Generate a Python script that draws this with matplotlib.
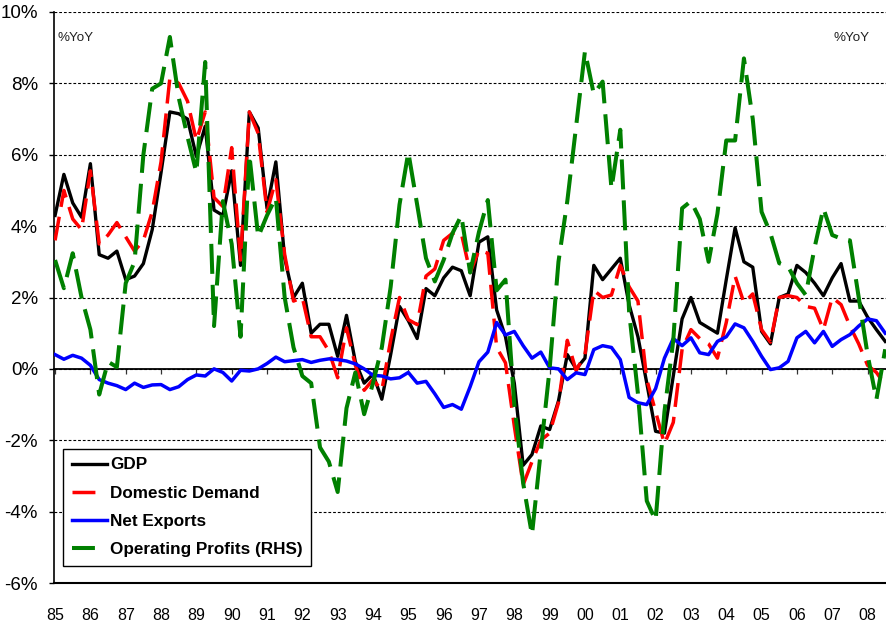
import matplotlib
matplotlib.use('Agg')
import matplotlib.pyplot as plt
from matplotlib.lines import Line2D
import numpy as np

plt.rcParams['font.family'] = ['Liberation Sans', 'DejaVu Sans']
plt.rcParams['lines.scale_dashes'] = False

# ---------------- data (quarterly, %YoY, from 1985Q1) ----------------
start_year = 1985
gdp = [4.3, 5.45, 4.65, 4.25, 5.75, 3.2, 3.1, 3.3, 2.5, 2.6,
       2.95, 3.9, 5.5, 7.2, 7.15, 7.0, 5.95, 6.8, 4.45, 4.3,
       5.55, 2.9, 7.2, 6.75, 4.5, 5.8, 3.1, 2.0, 2.4, 1.0,
       1.25, 1.25, 0.35, 1.5, 0.2, -0.4, -0.15, -0.85, 0.4, 1.75,
       1.35, 0.85, 2.25, 2.05, 2.55, 2.85, 2.75, 2.05, 3.55, 3.7,
       1.65, 0.9, -0.4, -2.7, -2.4, -1.6, -1.7, -0.9, 0.4, 0.0,
       0.3, 2.9, 2.5, 2.8, 3.1, 1.8, 0.9, -0.4, -1.75, -1.8,
       -0.2, 1.4, 2.0, 1.3, 1.15, 1.0, 2.5, 3.95, 3.0, 2.85,
       1.05, 0.7, 2.0, 2.1, 2.9, 2.7, 2.4, 2.05, 2.55, 2.95,
       1.9, 1.9, 1.45, 1.1, 0.77]
domestic_demand = [3.6, 5.0, 4.2, 3.9, 5.55, 3.5, 3.75, 4.1, 3.7, 3.3,
                   3.6, 4.4, 5.8, 8.15, 8.0, 7.5, 6.4, 7.2, 4.8, 4.55,
                   6.2, 3.05, 7.2, 6.6, 4.4, 5.3, 3.2, 1.9, 2.0, 0.9,
                   0.9, 0.5, -0.25, 1.15, 0.1, -0.6, -0.3, -0.6, 0.8, 2.0,
                   1.38, 1.24, 2.6, 2.8, 3.6, 3.8, 3.8, 2.7, 3.33, 3.24,
                   0.6, 0.17, -1.6, -3.25, -2.6, -2.0, -1.8, -0.95, 0.8, -0.05,
                   0.4, 2.2, 2.0, 2.07, 2.9, 2.3, 1.9, -0.3, -1.2, -2.1,
                   -1.5, 0.55, 1.1, 0.85, 0.7, 0.3, 1.3, 2.6, 1.85, 2.1,
                   1.1, 0.75, 2.0, 2.05, 2.0, 1.75, 1.7, 1.1, 2.0, 1.8,
                   1.2, 0.7, 0.1, -0.1, -0.45]
net_exports = [0.4, 0.27, 0.38, 0.3, 0.1, -0.3, -0.4, -0.47, -0.58, -0.4,
               -0.52, -0.45, -0.44, -0.58, -0.5, -0.3, -0.17, -0.2, 0.0, -0.1,
               -0.34, -0.04, -0.06, 0.0, 0.15, 0.33, 0.2, 0.23, 0.26, 0.18,
               0.24, 0.28, 0.26, 0.22, 0.14, 0.0, -0.18, -0.2, -0.28, -0.25,
               -0.1, -0.4, -0.35, -0.7, -1.08, -1.0, -1.13, -0.5, 0.2, 0.47,
               1.3, 0.95, 1.05, 0.65, 0.3, 0.47, 0.03, 0.0, -0.3, -0.11,
               -0.16, 0.54, 0.65, 0.6, 0.26, -0.8, -0.95, -1.0, -0.55, 0.3,
               0.85, 0.65, 0.87, 0.45, 0.4, 0.77, 0.9, 1.26, 1.15, 0.77,
               0.35, -0.02, 0.03, 0.21, 0.87, 1.05, 0.73, 1.05, 0.63, 0.82,
               0.96, 1.2, 1.4, 1.35, 1.0]
operating_profits = [3.05, 2.26, 3.24, 2.0, 1.1, -0.72, 0.2, 0.05, 2.4, 3.0,
                     6.0, 7.85, 8.0, 9.3, 7.6, 6.5, 5.5, 8.6, 1.2, 4.7,
                     3.5, 0.9, 6.0, 3.7, 4.3, 4.8, 2.0, 0.6, -0.2, -0.4,
                     -2.2, -2.6, -3.45, -1.1, -0.1, -1.27, -0.4, 0.6, 2.3, 4.6,
                     6.07, 4.6, 3.1, 2.45, 3.05, 3.8, 4.3, 2.7, 3.84, 4.73,
                     2.2, 2.5, -1.0, -3.2, -4.65, -2.3, 0.0, 3.0, 4.7, 6.8,
                     8.9, 7.7, 8.05, 5.05, 6.7, 1.6, -0.7, -3.7, -4.25, -1.2,
                     0.8, 4.5, 4.7, 4.2, 3.0, 4.35, 6.4, 6.4, 8.7, 7.0,
                     4.4, 3.8, 2.96, 2.87, 2.4, 2.07, 3.4, 4.5, 3.75, 3.65,
                     3.6, 2.0, 0.4, -0.86, 0.55]

series_names = ['GDP', 'Domestic Demand', 'Net Exports', 'Operating Profits (RHS)']
year_ticks = list(range(1985, 2009))
year_labels = ['85', '86', '87', '88', '89', '90', '91', '92', '93', '94', '95', '96',
               '97', '98', '99', '00', '01', '02', '03', '04', '05', '06', '07', '08']
y_ticks = [-6, -4, -2, 0, 2, 4, 6, 8, 10]
y_labels = ['-6%', '-4%', '-2%', '0%', '2%', '4%', '6%', '8%', '10%']
unit_label = '%YoY'

# ---------------- figure ----------------
W, H = 887, 622
fig = plt.figure(figsize=(W / 100, H / 100), dpi=100)
ax_l, ax_r, ax_t, ax_b = 54, 887, 12, 583
ax = fig.add_axes([ax_l / W, 1 - ax_b / H, (ax_r - ax_l) / W, (ax_b - ax_t) / H])

x = start_year + np.arange(len(gdp)) / 4.0

ax.plot(x, gdp, color='black', lw=2.4, solid_joinstyle='round', zorder=3)
ax.plot(x, domestic_demand, color='#FF0000', lw=2.5, dashes=(17.3, 7.2),
        dash_capstyle='butt', dash_joinstyle='round', zorder=4)
ax.plot(x, net_exports, color='#0000FF', lw=2.5, solid_joinstyle='round', zorder=5)
ax.plot(x, operating_profits, color='#008000', lw=2.9, dashes=(21.6, 7.9),
        dash_capstyle='butt', dash_joinstyle='round', zorder=6)

ymin, ymax = -6, 10
ax.set_ylim(ymin, ymax)
ax.set_xlim(1984.97, 2008.55)

# y axis
ax.set_yticks(y_ticks)
ax.set_yticklabels(y_labels)
ax.tick_params(axis='y', length=3.6, width=1.0, direction='out', pad=8, labelsize=13.5,
               colors='black')
ax.yaxis.grid(True, linestyle=(0, (2.0, 1.4)), color='black', lw=0.8)
ax.set_axisbelow(True)

# x axis labels at bottom
ax.set_xticks(year_ticks)
ax.set_xticklabels(year_labels)
ax.tick_params(axis='x', length=0, pad=18, labelsize=11.5)

for s in ['top', 'right']:
    ax.spines[s].set_visible(False)
ax.spines['left'].set_linewidth(1.2)
ax.spines['bottom'].set_linewidth(1.5)

# zero line with year tick marks
zero_pos = (0 - ymin) / (ymax - ymin)
sec = ax.secondary_xaxis(zero_pos)
sec.set_xticks(year_ticks)
sec.set_xticklabels([])
sec.tick_params(axis='x', length=3.5, width=0.9, direction='out', color='#333333')
sec.spines['bottom'].set_linewidth(1.3)

# unit labels
fig.text(58 / W, 1 - 38 / H, unit_label, ha='left', va='center', fontsize=9.6, color='#222222')
fig.text(870 / W, 1 - 38 / H, unit_label, ha='right', va='center', fontsize=9.6, color='#222222')

# legend
handles = [
    Line2D([], [], color='black', lw=2.4),
    Line2D([], [], color='#FF0000', lw=2.5, dashes=(16.5, 20), dash_capstyle='butt'),
    Line2D([], [], color='#0000FF', lw=2.5),
    Line2D([], [], color='#008000', lw=2.9, dashes=(16.5, 20), dash_capstyle='butt'),
]
leg = ax.legend(handles, series_names, loc='lower left',
                bbox_to_anchor=((63 - ax_l) / (ax_r - ax_l), (ax_b - 566) / (ax_b - ax_t)),
                borderaxespad=0, prop={'weight': 'bold', 'size': 12.3},
                handlelength=2.05, handletextpad=0.2, labelspacing=0.78, borderpad=0.5,
                fancybox=False, framealpha=1, edgecolor='black')
leg.get_frame().set_linewidth(1.0)
leg.set_zorder(10)

fig.savefig('out.png', dpi=100)
